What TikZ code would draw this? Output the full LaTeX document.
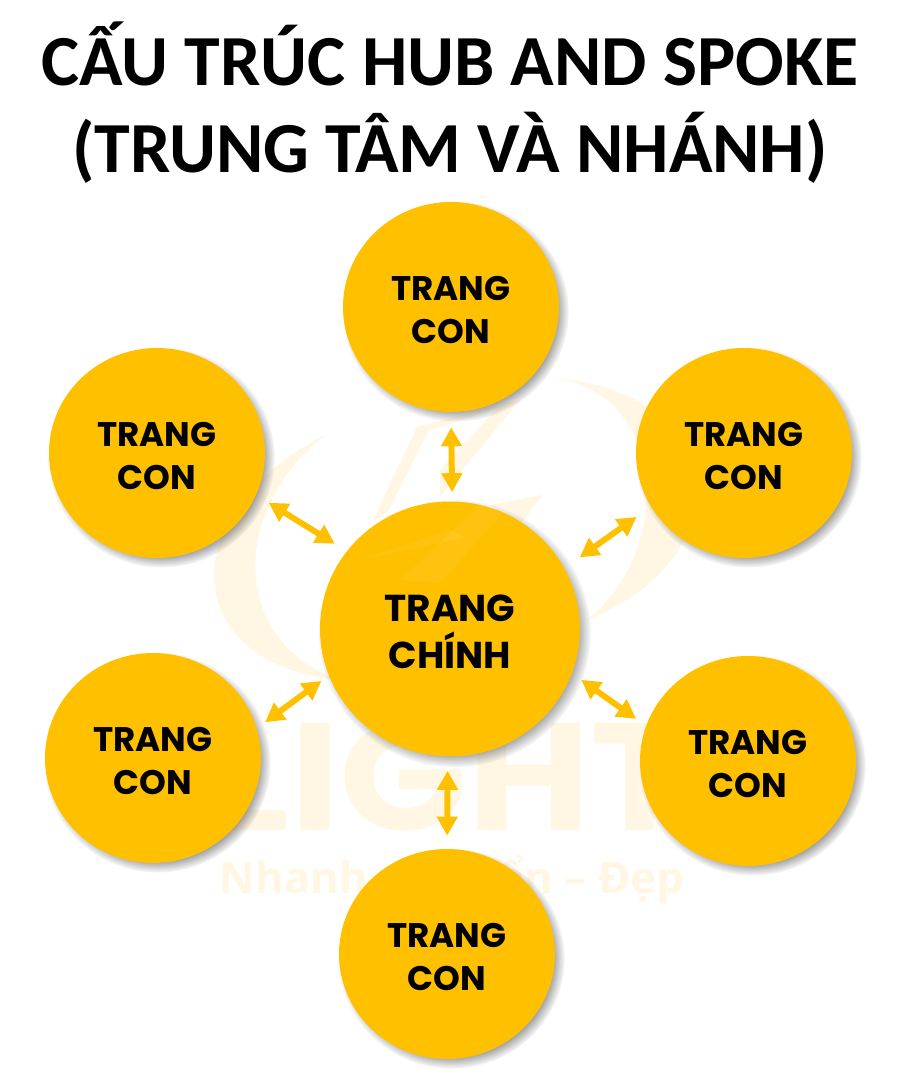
\documentclass[tikz,border=0pt]{standalone}
\usepackage{fontspec}
\usepackage{tikz}
\usetikzlibrary{arrows.meta, shapes.geometric, shadows}
\newfontfamily\titlefont{Carlito}[BoldFont=Carlito Bold]
\newfontfamily\labelfont{Poppins}[BoldFont=Poppins Bold]
\newfontfamily\logofont{Poppins Bold}[FakeStretch=1.1]
\newfontfamily\sloganfont{Open Sans}[BoldFont=Open Sans Bold]
\definecolor{amber}{HTML}{FFC000}
\definecolor{faint}{HTML}{FFF7E3}
\tikzset{
    page/.style={ellipse, inner sep=0pt, fill=amber, align=center,
        circular drop shadow={shadow xshift=2.4pt, shadow yshift=-2.4pt, shadow scale=1.05, opacity=1}},
    subpage/.style={page, minimum width=4.32cm, minimum height=4.2cm,
        execute at begin node={\rule{0pt}{41.4pt}},
        font=\labelfont\bfseries\fontsize{19.4}{24.4}\selectfont},
    mainpage/.style={page, minimum width=5.2cm, minimum height=5.1cm,
        execute at begin node={\rule{0pt}{45.4pt}},
        font=\labelfont\bfseries\fontsize{21.3}{27}\selectfont},
    both/.style={draw=amber, line width=3.4pt, {Triangle[width=.4cm, length=.38cm]}-{Triangle[width=.4cm, length=.38cm]}}
}

\begin{document}
\begin{tikzpicture}
    \useasboundingbox (0,0) rectangle (18.1,21.5);

    % logo behind the pages
    \fill[faint] (6.5,12.8) .. controls (3.4,11.2) and (3.6,8.2) .. (6.8,7.9)
        .. controls (4.7,8.6) and (4.5,11.2) .. (6.5,12.8);
    \fill[faint] (10.7,13.95) .. controls (14.6,13.9) and (15.0,10.4) .. (11.74,9.1)
        .. controls (13.6,10.6) and (13.3,14.0) .. (10.7,13.95);
    \fill[faint] (8.34,12.96) -- (8.64,13.02) -- (7.76,11.26) -- (7.44,11.06) -- cycle;
    \fill[faint] (8.34,12.96) -- (10.4,13.5) -- (8.64,12.9) -- cycle;
    \fill[faint] (10.4,13.5) -- (10.0,13.4) -- (8.8,12.1) -- (8.8,11.56) -- cycle;
    \fill[faint] (10.84,11.6) -- (9.8,11.4) -- (10.4,11.0) -- cycle;
    \node[text=faint, font=\logofont\fontsize{87}{87}\selectfont] (logo) at (9.0,5.97) {LIGHT};
    \node[text=faint, font=\sloganfont\bfseries\fontsize{24.9}{26}\selectfont] (slogan) at (9.04,3.9) {Nhanh – Chuẩn – Đẹp};

    \node[text=black, align=center, font=\titlefont\bfseries\fontsize{40.9}{49.5}\selectfont] (title) at (9.0, 19.45)
        {CẤU TRÚC HUB AND SPOKE\\(TRUNG TÂM VÀ NHÁNH)};

    \node[mainpage] (0) at (9.00, 8.92) {TRANG\\CHÍNH};
    \node[subpage] (1) at (9.02, 15.36) {TRANG\\CON};
    \node[subpage] (2) at (14.88, 12.44) {TRANG\\CON};
    \node[subpage] (3) at (14.96, 6.28) {TRANG\\CON};
    \node[subpage] (4) at (8.94, 2.42) {TRANG\\CON};
    \node[subpage] (5) at (3.06, 6.34) {TRANG\\CON};
    \node[subpage] (6) at (3.14, 12.44) {TRANG\\CON};

    % faint streaks of the logo over the main page
    \fill[white, opacity=.06] (10.06,11.24) -- (9.6,11.4) -- (8.0,9.9) -- (8.8,9.84) -- cycle;
    \fill[white, opacity=.06] (7.2,10.3) -- (9.0,10.9) -- (9.3,10.75) -- cycle;

    \draw[both, shorten <=.18cm, shorten >=.3cm] (0.89.5) -- (1.270);
    \draw[both, shorten <=.37cm, shorten >=.35cm] (0.28) -- (2.210);
    \draw[both, shorten <=.22cm, shorten >=.24cm] (0.-20) -- (3.161);
    \draw[both, shorten <=.28cm, shorten >=.26cm] (0.269) -- (4.90);
    \draw[both, shorten <=.18cm, shorten >=.2cm] (0.201) -- (5.16);
    \draw[both, shorten <=.28cm, shorten >=.29cm] (0.143) -- (6.-23);
\end{tikzpicture}
\end{document}
